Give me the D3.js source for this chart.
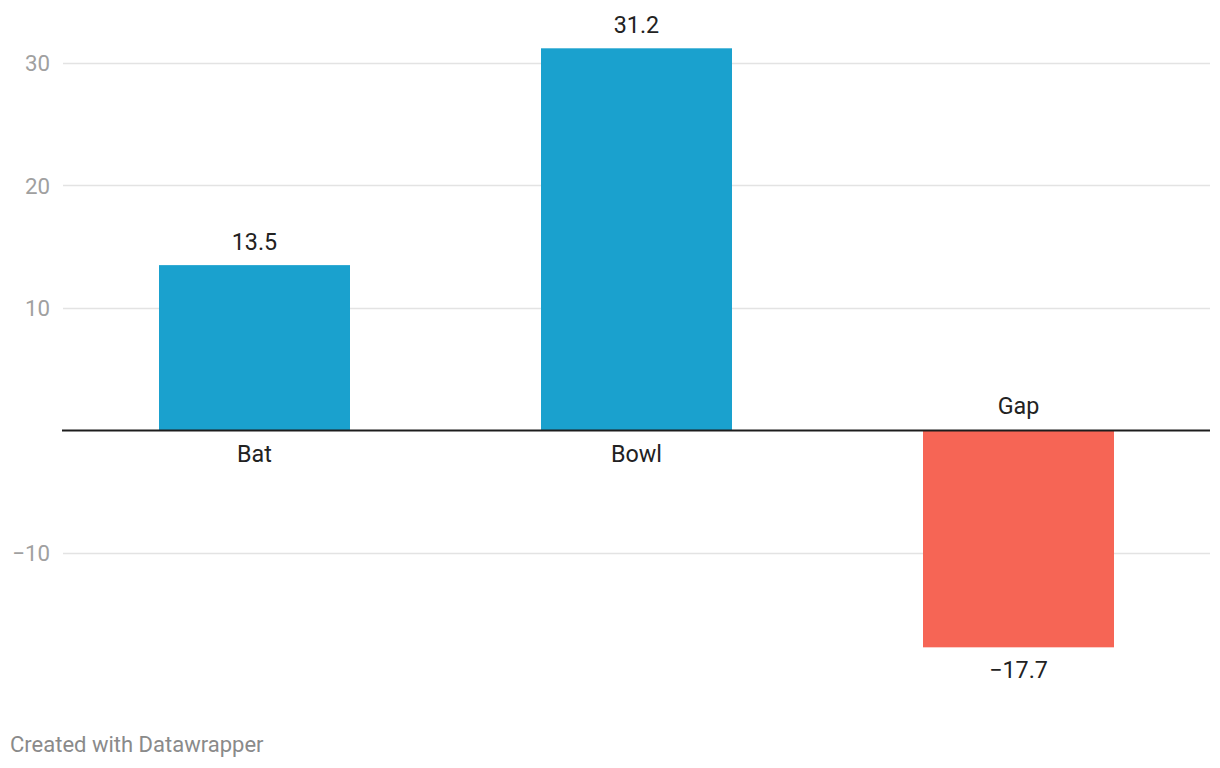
<!DOCTYPE html>
<html><head><meta charset="utf-8">
<script src="https://cdn.jsdelivr.net/npm/d3@7"></script>
<style>body{margin:0;background:#fff;} text{font-family:Roboto,"Noto Sans",sans-serif;}</style>
</head><body>
<svg id="c" width="1220" height="768"></svg>
<script>
const categories = ["Bat", "Bowl", "Gap"];
const values = [13.5, 31.2, -17.7];
const yTicks = [-10, 10, 20, 30];

const svg = d3.select("#c");
const x = d3.scaleBand().domain(categories).range([63.5, 1209.5]).paddingInner(0.5).paddingOuter(0.25);
const y = d3.scaleLinear().domain([-20, 30]).range([675.5, 63]);

const fmt = v => (v < 0 ? "\u2212" : "") + Math.abs(v).toFixed(1);

// gridlines
svg.append("g").selectAll("line").data(yTicks).join("line")
  .attr("x1", 63).attr("x2", 1210)
  .attr("y1", d => Math.round(y(d)) + 0.5).attr("y2", d => Math.round(y(d)) + 0.5)
  .attr("stroke", "#e3e3e3").attr("stroke-width", 1.5);

// tick labels
svg.append("g").selectAll("text").data(yTicks).join("text")
  .attr("x", 50).attr("y", d => y(d) + 8)
  .attr("text-anchor", "end").attr("font-size", 22.3).attr("fill", "#a0a0a0")
  .text(d => (d < 0 ? "\u2212" : "") + Math.abs(d));

// bars
svg.append("g").selectAll("rect").data(values).join("rect")
  .attr("x", (d, i) => x(categories[i]))
  .attr("width", x.bandwidth())
  .attr("y", d => y(Math.max(0, d)))
  .attr("height", d => Math.abs(y(d) - y(0)))
  .attr("fill", d => d < 0 ? "#f66555" : "#1aa1ce");

// zero line
svg.append("line").attr("x1", 62).attr("x2", 1210)
  .attr("y1", y(0)).attr("y2", y(0))
  .attr("stroke", "#1d1d1d").attr("stroke-width", 2);

// value labels
svg.append("g").selectAll("text").data(values).join("text")
  .attr("x", (d, i) => x(categories[i]) + x.bandwidth() / 2)
  .attr("y", d => d < 0 ? y(d) + 31 : y(d) - 15)
  .attr("text-anchor", "middle")
  .attr("font-size", 23.3).attr("fill", "#222")
  .text(d => fmt(d));

// category labels
svg.append("g").selectAll("text").data(values).join("text")
  .attr("x", (d, i) => x(categories[i]) + x.bandwidth() / 2)
  .attr("y", d => d < 0 ? y(0) - 17 : y(0) + 31.5)
  .attr("text-anchor", "middle")
  .attr("font-size", 23.3).attr("fill", "#222")
  .text((d, i) => categories[i]);

// footer
svg.append("text").attr("x", 10).attr("y", 752)
  .attr("font-size", 22).attr("fill", "#8a8a8a")
  .text("Created with Datawrapper");
</script>
</body></html>
